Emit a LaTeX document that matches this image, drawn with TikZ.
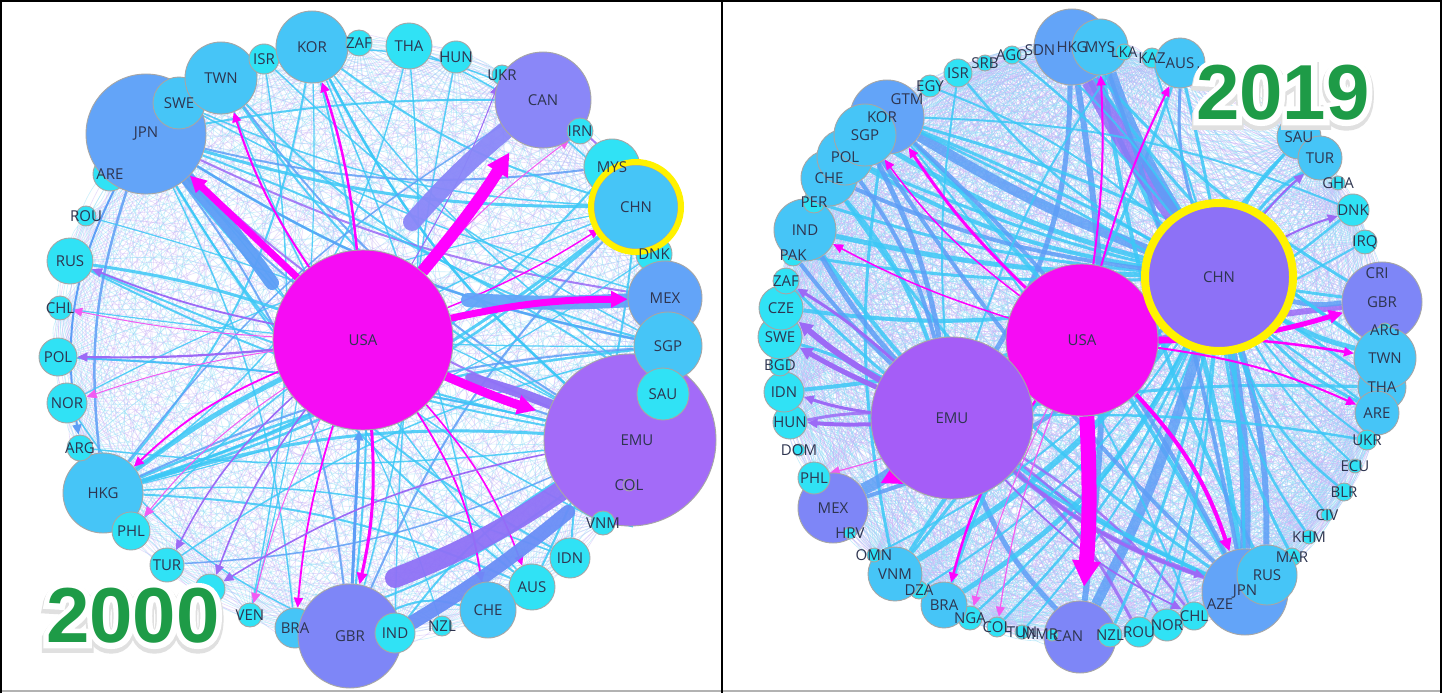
\documentclass[tikz,border=0pt]{standalone}
\usepackage{fontspec}
\setmainfont{Open Sans}
\newfontfamily\yearfont{Liberation Sans}
\newfontfamily\yearhalo{Liberation Sans}[BoldFeatures={FakeBold=14}]
\newfontfamily\yearshadow{Liberation Sans}[BoldFeatures={FakeBold=18}]
\usetikzlibrary{arrows.meta}
\definecolor{cCy}{HTML}{30E2F5}
\definecolor{cSky}{HTML}{46C5F7}
\definecolor{cJp}{HTML}{63A4F8}
\definecolor{cGb}{HTML}{7E86F7}
\definecolor{cCa}{HTML}{8A87F8}
\definecolor{cEm}{HTML}{A36BF8}
\definecolor{cEmR}{HTML}{A55DF7}
\definecolor{cCn}{HTML}{8D71F6}
\definecolor{cUs}{HTML}{F60CF4}
\definecolor{cMag}{HTML}{FF00FF}
\definecolor{cPink}{HTML}{F25CF2}
\definecolor{eCy}{HTML}{3CC8F6}
\definecolor{eBl}{HTML}{5D9EF6}
\definecolor{ePu}{HTML}{9C6AF6}
\definecolor{eBand}{HTML}{6A8EF6}
\definecolor{eBandP}{HTML}{8F72F6}
\definecolor{wCy}{HTML}{8FDCF7}
\definecolor{wPu}{HTML}{C9B4F8}
\definecolor{cYel}{HTML}{FFF200}
\definecolor{cYear}{HTML}{1E9B47}
\definecolor{cLbl}{HTML}{2E3550}
\pgfdeclarelayer{web}\pgfdeclarelayer{edges}\pgfdeclarelayer{labels}
\pgfsetlayers{web,edges,main,labels}
\tikzset{
 cnode/.style={circle, draw=black!35, line width=0.9pt, inner sep=0pt},
 lbl/.style={font=\fontsize{15}{15}\selectfont, text=cLbl, inner sep=0pt},
 webline/.style={line width=0.6pt, opacity=#1},
 thinhead/.style={-{Triangle[length=10pt,width=9pt]}},
 magarrow/.style={draw=cMag, line width=#1, -{Triangle[length=8pt 1.2,width=6pt 1.4]}},
 band/.style={line width=#1, line cap=round, opacity=0.95},
 yeartxt/.style={font=\yearfont\bfseries\fontsize{78}{78}\selectfont, inner sep=0pt},
 yearhl/.style={font=\yearhalo\bfseries\fontsize{78}{78}\selectfont, inner sep=0pt, text=white},
 yearsh/.style={font=\yearshadow\bfseries\fontsize{78}{78}\selectfont, inner sep=0pt, text=black!12},
}
\newcommand\mkc[6]{\node[cnode, fill=#6, minimum size=#5pt] (#1) at (#3,#4) {};
 \begin{pgfonlayer}{labels}\node[lbl] (#1t) at (#1.center) {#2};\end{pgfonlayer}}
\newcommand\mkco[8]{\node[cnode, fill=#6, minimum size=#5pt] (#1) at (#3,#4) {};
 \begin{pgfonlayer}{labels}\node[lbl] (#1t) at (#7,#8) {#2};\end{pgfonlayer}}
\def\Llist{LJPN,LSWE,LTWN,LISR,LKOR,LZAF,LTHA,LHUN,LUKR,LCAN,LIRN,LMYS,LCHN,LDNK,LMEX,LSGP,LSAU,LEMU,LVNM,LIDN,LAUS,LCHE,LNZL,LIND,LGBR,LBRA,LVEN,LHID,LTUR,LPHL,LHKG,LARG,LNOR,LPOL,LCHL,LRUS,LROU,LARE,LUSA}
\def\Rlist{REGY,RISR,RSRB,RAGO,RSDN,RHKG,RMYS,RLKA,RKAZ,RAUS,RSAU,RTUR,RGHA,RDNK,RIRQ,RGBR,RTWN,RTHA,RARE,RUKR,RECU,RBLR,RCIV,RKHM,RMAR,RRUS,RJPN,RCHL,RNOR,RROU,RNZL,RCAN,RTUN,RCOL,RNGA,RBRA,RDZA,RVNM,ROMN,RMEX,RPHL,RHUN,RIDN,RBGD,RSWE,RCZE,RZAF,RPAK,RIND,RPER,RCHE,RPOL,RSGP,RKOR,RUSA,REMU,RCHN}
\begin{document}
\begin{tikzpicture}[x=1pt,y=-1pt]
\useasboundingbox (0,0) rectangle (1442,693);
\begin{pgfonlayer}{web}\fill[white] (0,0) rectangle (1442,693);\end{pgfonlayer}
% ---------------- left panel nodes
\mkc{LARE}{ARE}{110}{174}{34}{cCy}
\mkc{LJPN}{JPN}{146}{134}{120}{cJp}
\mkc{LSWE}{SWE}{179}{103}{52}{cSky}
\mkc{LTWN}{TWN}{221}{78}{72}{cSky}
\mkc{LISR}{ISR}{264}{59}{30}{cCy}
\mkc{LKOR}{KOR}{312}{47}{72}{cSky}
\mkc{LZAF}{ZAF}{359}{43}{26}{cCy}
\mkc{LTHA}{THA}{409}{46}{46}{cCy}
\mkc{LHUN}{HUN}{456}{57}{32}{cCy}
\mkc{LUKR}{UKR}{502}{75}{20}{cCy}
\mkc{LCAN}{CAN}{543}{100}{96}{cCa}
\mkc{LIRN}{IRN}{580}{131}{26}{cCy}
\mkc{LMYS}{MYS}{612}{167}{56}{cCy}
\mkc{LDNK}{DNK}{654}{254}{36}{cCy}
\mkc{LCHN}{CHN}{636}{207}{84}{cSky}
\mkco{LEMU}{EMU}{630}{440}{172}{cEm}{637}{440}
\mkco{LCOL}{COL}{629}{485}{12}{cEm}{629}{485}
\mkc{LMEX}{MEX}{665}{298}{74}{cJp}
\mkc{LSGP}{SGP}{668}{346}{68}{cSky}
\mkc{LSAU}{SAU}{663}{394}{52}{cCy}
\mkc{LVNM}{VNM}{603}{523}{24}{cCy}
\mkc{LIDN}{IDN}{570}{558}{40}{cCy}
\mkc{LAUS}{AUS}{532}{587}{46}{cCy}
\mkc{LCHE}{CHE}{488}{610}{56}{cSky}
\mkc{LNZL}{NZL}{442}{626}{20}{cCy}
\mkc{LBRA}{BRA}{295}{628}{40}{cSky}
\mkc{LGBR}{GBR}{350}{636}{104}{cGb}
\mkc{LIND}{IND}{395}{633}{40}{cCy}
\mkc{LVEN}{VEN}{250}{615}{24}{cCy}
\node[cnode, fill=cCy, minimum size=30pt] (LHID) at (210,589) {};
\mkc{LTUR}{TUR}{167}{565}{34}{cCy}
\mkc{LHKG}{HKG}{103}{493}{80}{cSky}
\mkc{LPHL}{PHL}{131}{531}{38}{cCy}
\mkc{LARG}{ARG}{80}{448}{26}{cCy}
\mkc{LNOR}{NOR}{67}{403}{40}{cCy}
\mkc{LPOL}{POL}{58}{357}{38}{cCy}
\mkc{LCHL}{CHL}{60}{308}{24}{cCy}
\mkc{LRUS}{RUS}{70}{261}{46}{cCy}
\mkc{LROU}{ROU}{86}{216}{20}{cCy}
\mkc{LUSA}{USA}{363}{340}{180}{cUs}
\draw[cYel, line width=6pt] (LCHN.center) circle (45pt);
% ---------------- right panel nodes
\mkc{REGY}{EGY}{930}{86}{22}{cCy}
\mkc{RISR}{ISR}{958}{73}{28}{cCy}
\mkc{RSRB}{SRB}{985}{63}{16}{cCy}
\mkc{RAGO}{AGO}{1012}{55}{18}{cCy}
\mkc{RSDN}{SDN}{1040}{50}{14}{cCy}
\mkc{RHKG}{HKG}{1072}{47}{76}{cJp}
\mkc{RMYS}{MYS}{1100}{47}{56}{cSky}
\mkc{RLKA}{LKA}{1124}{52}{16}{cCy}
\mkc{RKAZ}{KAZ}{1152}{58}{20}{cCy}
\mkc{RAUS}{AUS}{1180}{63}{50}{cSky}
\mkc{RIRL}{IRL}{1207}{72}{14}{cCy}
\mkc{RSAU}{SAU}{1299}{137}{44}{cSky}
\mkc{RTUR}{TUR}{1320}{158}{44}{cSky}
\mkc{RGHA}{GHA}{1338}{183}{14}{cCy}
\mkc{RDNK}{DNK}{1353}{210}{32}{cCy}
\mkc{RIRQ}{IRQ}{1365}{242}{24}{cCy}
\mkc{RCRI}{CRI}{1377}{273}{14}{cCy}
\mkc{RGBR}{GBR}{1382}{302}{80}{cGb}
\mkc{RARG}{ARG}{1385}{330}{14}{cCy}
\mkc{RTHA}{THA}{1382}{387}{48}{cSky}
\mkc{RARE}{ARE}{1377}{413}{44}{cSky}
\mkc{RTWN}{TWN}{1385}{358}{62}{cSky}
\mkc{RUKR}{UKR}{1367}{440}{20}{cCy}
\mkc{RECU}{ECU}{1355}{466}{14}{cCy}
\mkc{RBLR}{BLR}{1344}{492}{18}{cCy}
\mkc{RCIV}{CIV}{1327}{515}{12}{cCy}
\mkc{RKHM}{KHM}{1309}{537}{14}{cCy}
\mkc{RMAR}{MAR}{1292}{557}{18}{cCy}
\mkc{RAZE}{AZE}{1220}{604}{10}{cCy}
\mkc{RJPN}{JPN}{1245}{592}{86}{cJp}
\mkc{RRUS}{RUS}{1267}{575}{60}{cSky}
\mkc{RCHL}{CHL}{1194}{616}{28}{cCy}
\mkc{RNOR}{NOR}{1167}{625}{32}{cCy}
\mkc{RROU}{ROU}{1139}{632}{30}{cCy}
\mkco{RCAN}{CAN}{1080}{637}{72}{cGb}{1068}{636}
\mkc{RNZL}{NZL}{1110}{635}{24}{cCy}
\mkco{RMMR}{MMR}{1052}{635}{12}{cCy}{1040}{634}
\mkc{RTUN}{TUN}{1022}{632}{14}{cCy}
\mkc{RCOL}{COL}{997}{627}{20}{cCy}
\mkc{RNGA}{NGA}{970}{618}{24}{cCy}
\mkc{RBRA}{BRA}{944}{605}{46}{cSky}
\mkc{RDZA}{DZA}{919}{590}{18}{cCy}
\mkc{RVNM}{VNM}{895}{574}{54}{cSky}
\mkc{ROMN}{OMN}{874}{555}{14}{cCy}
\mkc{RMEX}{MEX}{833}{508}{70}{cGb}
\mkc{RHRV}{HRV}{850}{533}{12}{cCy}
\mkc{RPHL}{PHL}{814}{478}{32}{cCy}
\mkc{RDOM}{DOM}{799}{450}{12}{cCy}
\mkc{RHUN}{HUN}{790}{422}{34}{cCy}
\mkc{RIDN}{IDN}{784}{392}{40}{cCy}
\mkc{RBGD}{BGD}{780}{365}{22}{cCy}
\mkc{RSWE}{SWE}{780}{337}{44}{cCy}
\mkc{RCZE}{CZE}{781}{308}{44}{cCy}
\mkc{RZAF}{ZAF}{786}{281}{26}{cCy}
\mkc{RPAK}{PAK}{793}{255}{22}{cCy}
\mkc{RIND}{IND}{805}{230}{62}{cSky}
\mkc{RPER}{PER}{814}{202}{22}{cCy}
\mkc{RCHE}{CHE}{829}{178}{56}{cSky}
\mkc{RPOL}{POL}{845}{157}{56}{cSky}
\mkco{RGTM}{GTM}{907}{99}{12}{cJp}{907}{99}
\mkco{RKOR}{KOR}{887}{117}{74}{cJp}{882}{117}
\mkc{RSGP}{SGP}{865}{135}{62}{cSky}
\mkc{RUSA}{USA}{1082}{340}{152}{cUs}
\mkc{REMU}{EMU}{952}{418}{162}{cEmR}
\mkc{RCHN}{CHN}{1219}{277}{144}{cCn}
\draw[cYel, line width=8pt] (RCHN.center) circle (74pt);
% ---------------- pale web
\begin{pgfonlayer}{web}
\foreach \a [count=\i] in \Llist {\foreach \b [count=\j] in \Llist {\ifnum\j>\i
  \ifodd\numexpr\i+\j\relax \def\wc{wCy}\else\def\wc{wPu}\fi
  \ifodd\j \draw[webline=0.45, draw=\wc] (\a) to[bend left=16] (\b);\else \draw[webline=0.45, draw=\wc] (\a) to[bend right=16] (\b);\fi
 \fi}}
\foreach \a [count=\i] in \Rlist {\foreach \b [count=\j] in \Rlist {\ifnum\j>\i
  \ifodd\numexpr\i+\j\relax \def\wc{wCy}\else\def\wc{wPu}\fi
  \ifodd\j \draw[webline=0.55, draw=\wc] (\a) to[bend left=16] (\b);\else \draw[webline=0.55, draw=\wc] (\a) to[bend right=16] (\b);\fi
 \fi}}
\end{pgfonlayer}
% ---------------- edges
\begin{pgfonlayer}{edges}
\foreach \a/\b/\w/\c/\bd in {LKOR/LHKG/2/eCy/15, LKOR/LEMU/2.5/eCy/-10, LTWN/LSGP/2/eCy/-15, LTWN/LEMU/2/eBl/-10,
 LJPN/LSGP/2.5/eCy/-10, LJPN/LMEX/2/ePu/-8, LJPN/LEMU/2/eBl/-15, LSWE/LCHN/1.5/eCy/-10, LISR/LVEN/1.5/eCy/10,
 LTHA/LHKG/1.5/eCy/20, LTHA/LGBR/1.5/eCy/10, LHUN/LIND/1.5/eCy/-5, LMYS/LHKG/2/eCy/15, LMYS/LJPN/2/eBl/10,
 LCHN/LHKG/2.5/eCy/12, LCHN/LKOR/2/eCy/10, LCHN/LJPN/3/eCy/8, LCHN/LGBR/2/eBl/-10, LSGP/LHKG/2.5/eCy/-8,
 LSGP/LJPN/2/eBl/10, LMEX/LCAN/2/ePu/-20, LEMU/LJPN/2/ePu/10, LEMU/LHKG/3/eCy/-10, LEMU/LRUS/2/eCy/8,
 LEMU/LTWN/2/eCy/12, LEMU/LKOR/2/eCy/10, LEMU/LPOL/2/eBl/-5, LGBR/LKOR/2/eCy/-10, LGBR/LJPN/2/eBl/-15,
 LIND/LEMU/2/eCy/10, LAUS/LJPN/2/eCy/10, LAUS/LCHN/2/eCy/-10, LIDN/LJPN/2/eCy/15, LIDN/LSGP/2/eCy/20,
 LCHE/LGBR/2/eCy/-20, LHKG/LCHN/3/eCy/-10, LHKG/LSGP/2/eBl/10, LRUS/LEMU/2/eCy/-5, LPOL/LEMU/1.5/eCy/5,
 LNOR/LGBR/1.5/eCy/-15, LBRA/LEMU/2/eCy/-10, LTUR/LEMU/1.5/eBl/-10, LCAN/LJPN/2/eCy/-5, LCAN/LHKG/1.5/eBl/-10,
 LKOR/LCAN/1.5/eCy/10, LRUS/LUSA/3/eCy/5, LJPN/LHKG/2.5/eBl/-12, LHKG/LUSA/5/eCy/5,
 LTHA/LCHN/1.5/eCy/10, LISR/LSGP/1.5/eCy/-8, LSWE/LMEX/1.5/eCy/-6, LTWN/LAUS/1.5/eCy/-10, LROU/LEMU/1.2/eCy/6,
 LCHL/LSGP/1.2/eCy/-4, LNOR/LCHN/1.2/eCy/8, LARG/LEMU/1.5/eCy/-6, LPHL/LCHN/1.5/eCy/12, LTUR/LSGP/1.5/eCy/10,
 LVEN/LKOR/1.2/eCy/-8, LBRA/LJPN/1.5/eCy/-10, LNZL/LJPN/1.2/eCy/-12, LCHE/LKOR/1.5/eCy/-6, LAUS/LHKG/2/eCy/-10,
 LIDN/LHKG/1.5/eCy/-12, LVNM/LJPN/1.5/eCy/12, LSAU/LJPN/2/eCy/-6, LSAU/LKOR/1.5/eCy/8, LDNK/LHKG/1.2/eCy/10,
 RKOR/RCHN/10/eBl/-5, RSGP/RCHN/5/eCy/-8, RPOL/RCHN/4/eCy/-10, RIND/RCHN/5/eCy/-5, RHKG/RJPN/5/eCy/10,
 RHKG/RCAN/6/eBl/8, RMYS/RRUS/4/eCy/-10, RHKG/REMU/5/eBl/15, RAUS/RVNM/3/eCy/10, RAUS/RCHN/3/eBl/-10,
 RKAZ/RCHN/2/eCy/0, RSAU/RCHN/3/eCy/-10, RTUR/RCHN/3/eCy/-10, RDNK/REMU/2.5/eCy/10, RGBR/REMU/6/ePu/-8,
 RGBR/RCHN/5/eBl/10, RTWN/RCHN/5/eCy/8, RTWN/RKOR/3/eCy/-10, RTHA/REMU/3/eCy/-5, RARE/RCHN/3/eCy/10,
 RJPN/RCHN/10/eBl/-5, RRUS/RCHN/6/eBl/-8, RJPN/RKOR/4/eCy/-8, RJPN/REMU/5/ePu/10, RCAN/RCHN/10/eBl/-5,
 RCAN/REMU/5/eBl/10, RBRA/RCHN/5/eCy/-15, RVNM/RCHN/6/eCy/-10, RVNM/RKOR/3/eCy/10, RMEX/RCHN/4/eBl/-12,
 RIDN/RCHN/4/eCy/-8, RSWE/REMU/3/eCy/5, RCZE/RCHN/4/eCy/-10, RPAK/RCHN/3/eCy/-5, RCHE/REMU/4/eCy/10,
 RCHE/RJPN/3/eCy/-10, RPOL/RGBR/3/eCy/-8, RIND/RJPN/4/eCy/-15, RHUN/REMU/3/ePu/5, RNGA/RCHN/2.5/eCy/-10,
 RCOL/RCHN/2.5/eCy/-10, RNOR/REMU/2.5/ePu/-10, RROU/REMU/3/ePu/-10, RCHL/REMU/2.5/ePu/-10, RMAR/RCHN/3/eCy/10,
 RBLR/RCHN/2.5/eCy/15, RUKR/REMU/2.5/eCy/-5, RISR/RCHN/2.5/eCy/-10, RKOR/RJPN/4/eBl/10, RHKG/RCHN/18/eBandP/-4,
 RMYS/RCHN/12/eBl/-6, RMEX/REMU/12/eBl/-5, RIND/REMU/5/eBl/-6, RPAK/REMU/4/eBl/-4, RZAF/RJPN/3/eCy/-10,
 RPER/RCHN/3/eCy/-6, RCHE/RCHN/4/eBl/-8, RSGP/RJPN/4/eBl/-6, RSGP/REMU/5/eBl/8, RPOL/REMU/4/eBl/10,
 RVNM/RUSA/4/eCy/5, RBRA/RUSA/3/eCy/8, RDZA/RCHN/2/eCy/-12, ROMN/RCHN/2/eCy/-10, RTUN/RCHN/2/eCy/-10,
 RNZL/RCHN/3/eCy/-6, RROU/RCHN/2/eCy/-8, RNOR/RCHN/2.5/eCy/-5, RCHL/RKOR/2/eCy/-8, RKHM/RCHN/2.5/eCy/12,
 RCIV/RCHN/2/eCy/10, RECU/RCHN/2/eCy/8, RUKR/RCHN/2/eCy/8, RARE/RKOR/2.5/eCy/-6, RTHA/RKOR/3/eCy/-6,
 RGBR/RHKG/3/eCy/8, RTWN/RHKG/3/eCy/10, RDNK/RKOR/2/eCy/-10, RIRQ/REMU/2/eCy/5, RSAU/REMU/3/eCy/10,
 RTUR/REMU/2.5/eCy/8, RAUS/RJPN/3/eCy/6, RMYS/RJPN/4/eBl/4, RLKA/REMU/2/eCy/-8, RISR/REMU/2/eCy/-6,
 REGY/RCHN/2/eCy/10, RAGO/RCHN/2.5/eCy/6, RSDN/RCHN/2/eCy/8}
 {\draw[draw=\c, line width=\w pt, opacity=0.85] (\a) to[bend left=\bd] (\b);}
% thin arrows
\foreach \a/\b/\w/\c/\bd in {LUSA/LRUS/1.8/ePu/5, LUSA/LPOL/2.2/ePu/3, LUSA/LCHL/1/cPink/4, LUSA/LNOR/1/cPink/-5,
 LUSA/LHKG/1.8/cMag/-10, LUSA/LTUR/1.6/ePu/-10, LUSA/LHID/1.6/ePu/-8, LUSA/LVEN/1/cPink/-6, LUSA/LBRA/1.8/cMag/-6,
 LUSA/LCHE/1.8/cMag/12, LUSA/LAUS/1.6/cMag/10, LUSA/LCHN/1.4/cMag/-5, LUSA/LTWN/2/cMag/8, LUSA/LKOR/2.5/cMag/-6,
 LUSA/LPHL/1/cPink/-8, LUSA/LUKR/1/ePu/-5, LUSA/LIRN/1/cPink/5, LJPN/LARG/2/eBl/-18, LEMU/LVNM/2/eCy/20,
 LGBR/LUSA/3/eBl/0, LEMU/LHID/1.6/ePu/-10,
 RUSA/RTWN/2.5/cMag/5, RUSA/RARE/2/cMag/8, RUSA/RKOR/3/cMag/6, RUSA/RSGP/1.5/cMag/8, RUSA/RMYS/2/cMag/-5,
 RUSA/RAUS/2/cMag/5, RUSA/RBRA/2.5/cMag/-10, RUSA/RCOL/1.2/cPink/-6, RUSA/RIND/1.5/cMag/5, RUSA/RPHL/1.2/cPink/10,
 REMU/RIDN/3/ePu/5, REMU/RHUN/4/ePu/3, REMU/RZAF/3/ePu/-5, REMU/RJPN/3/ePu/-10, REMU/RCHL/1.8/ePu/-10,
 RCHN/RTUR/2/ePu/5, RCHN/RDNK/2/ePu/5, RUSA/RNGA/1/cPink/-5}
 {\draw[draw=\c, line width=\w pt, thinhead] (\a) to[bend left=\bd] (\b);}
% thick bands, left
\coordinate (LbJ) at (272,283);
\coordinate (LbC) at (412,222);
\coordinate (LbM) at (468,300);
\coordinate (LbE) at (470,378);
\coordinate (LbG) at (395,578);
\coordinate (LbAs) at (568,512);
\draw[band=14pt, draw=eBl] (LJPN) to[bend left=3] (LbJ);
\draw[band=18pt, draw=cCa] (LCAN) to[bend right=4] (LbC);
\draw[band=14pt, draw=cJp] (LMEX) to[bend left=3] (LbM);
\draw[band=10pt, draw=eBandP] (LEMU) to[bend right=3] (LbE);
\draw[band=20pt, draw=eBandP] (LEMU) to[bend left=6] (LbG);
\draw[band=14pt, draw=eBand] (LbAs) to[bend left=4] (LIND);
\draw[magarrow=7pt] (LUSA) to (LJPN);
\draw[magarrow=12pt, shorten >=14pt] (LUSA) to[bend right=4] (LCAN);
\draw[magarrow=7pt] (LUSA) to[bend left=6] (LMEX);
\draw[magarrow=9pt, shorten >=12pt] (LUSA) to[bend right=3] (LEMU);
\draw[magarrow=3pt] (LUSA) to[bend left=8] (LGBR);
% thick, right
\draw[magarrow=15pt, shorten >=14pt] (RUSA) to[bend left=4] (RCAN);
\draw[magarrow=10pt, shorten >=18pt] (RUSA) to[bend left=6] (RMEX);
\draw[magarrow=5pt] (RUSA) to[bend right=8] (RGBR);
\draw[magarrow=4pt] (RUSA) to[bend left=12] (RJPN);
\draw[draw=ePu, line width=6pt, -{Triangle[length=6pt 1.3,width=6pt 1.3]}] (REMU) to[bend left=5] (RCZE);
\draw[draw=ePu, line width=5pt, -{Triangle[length=6pt 1.3,width=6pt 1.3]}] (REMU) to[bend left=3] (RSWE);
\end{pgfonlayer}
% ---------------- year labels and frames
\begin{pgfonlayer}{labels}
\node[yearsh] (s2000) at (133,619) {2000};
\node[yearhl] (h2000) at (133,616) {2000};
\node[yeartxt, text=cYear] (y2000) at (133,616) {2000};
\node[yearsh] (s2019) at (1283,96) {2019};
\node[yearhl] (h2019) at (1283,93) {2019};
\node[yeartxt, text=cYear] (y2019) at (1283,93) {2019};
\draw[black!30, line width=1.5pt] (0,691) -- (1442,691);
\draw[black, line width=2pt] (1,693) -- (1,1) -- (1441,1) -- (1441,693);
\draw[black, line width=1.5pt] (722,1) -- (722,693);
\end{pgfonlayer}
\end{tikzpicture}
\end{document}
